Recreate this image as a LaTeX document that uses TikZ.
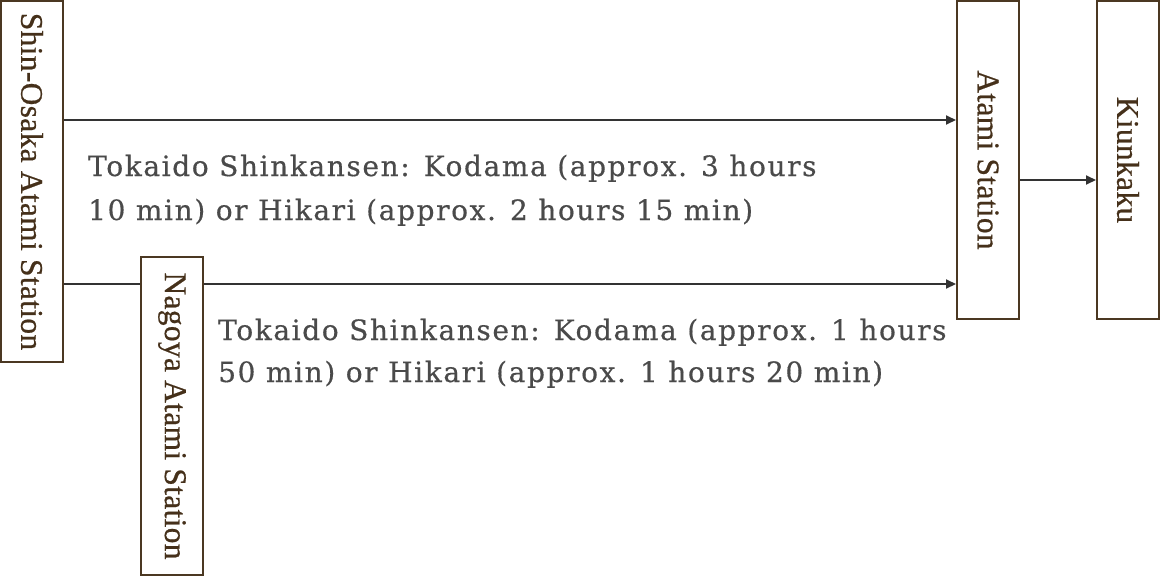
\documentclass[tikz,border=0pt]{standalone}
\usepackage{fontspec}
\setmainfont{Liberation Serif}
\newfontfamily\boxfont[LetterSpace=1,FakeBold=0.6]{Liberation Serif}
\newfontfamily\labfont[LetterSpace=5.8,FakeBold=0.5]{DejaVu Serif}
\usetikzlibrary{arrows.meta}
\definecolor{boxc}{HTML}{4B3822}
\definecolor{boxtxt}{HTML}{45301A}
\definecolor{linec}{HTML}{333333}
\definecolor{labc}{HTML}{4A4A4A}
\tikzset{
  station/.style={draw=boxc, line width=2pt, inner sep=0pt, minimum width=62pt, fill=white},
  stationtext/.style={rotate=-90, inner sep=0pt, text=boxtxt, font=\boxfont\fontsize{31.5}{36}\selectfont},
  conn/.style={draw=linec, line width=2pt},
  arr/.style={conn, -{Triangle[length=10pt,width=9pt]}},
  lab/.style={anchor=base west, inner sep=0pt, text=labc, font=\labfont\fontsize{28}{32}\selectfont}
}
\begin{document}
\begin{tikzpicture}[x=1pt,y=-1pt]
\useasboundingbox (0,0) rectangle (1160,576);
\node[station, minimum height=361pt] (so) at (32,181.5) {};
\node[stationtext] (sot) at (so.center) {Shin-Osaka Atami Station};
\node[station, minimum height=318pt] (ng) at (172,416) {};
\node[stationtext] (ngt) at (ng.center) {Nagoya Atami Station};
\node[station, minimum height=318pt] (at) at (988,160) {};
\node[stationtext] (att) at (at.center) {Atami Station};
\node[station, minimum height=318pt] (ki) at (1128,160) {};
\node[stationtext] (kit) at (ki.center) {Kiunkaku};

\draw[arr] (so.east |- 0,120) -- (at.west |- 0,120);
\draw[conn] (so.east |- 0,284) -- (ng.west |- 0,284);
\draw[arr] (ng.east |- 0,284) -- (at.west |- 0,284);
\draw[arr] (at.east |- 0,180) -- (ki.west |- 0,180);

\node[lab] (l1a) at (88,176) {Tokaido Shinkansen: Kodama (approx. 3 hours};
\node[lab] (l1b) at (88,220) {10 min) or Hikari (approx. 2 hours 15 min)};
\node[lab] (l2a) at (218,340) {Tokaido Shinkansen: Kodama (approx. 1 hours};
\node[lab] (l2b) at (218,382) {50 min) or Hikari (approx. 1 hours 20 min)};
\end{tikzpicture}
\end{document}
